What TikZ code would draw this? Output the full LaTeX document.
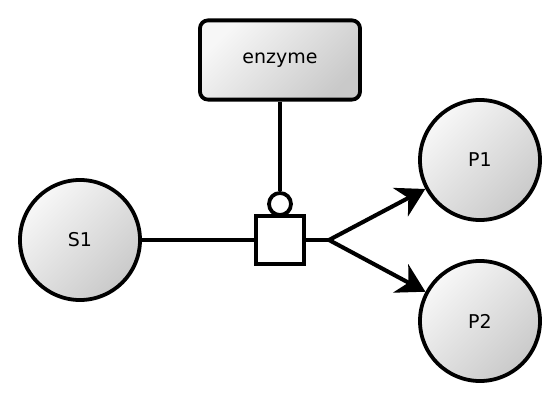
\documentclass[tikz,border=0pt]{standalone}
\usepackage{fontspec}
\setmainfont{DejaVu Sans}
\usetikzlibrary{arrows.meta,positioning}

\begin{document}
\begin{tikzpicture}[
  x=0.025cm, y=-0.025cm,
  species/.style={circle, draw, line width=2.7pt, minimum size=3cm, inner sep=0pt,
    top color=black!3, bottom color=black!21, shading angle=45,
    font=\fontsize{13.5}{16}\selectfont},
  macro/.style={rectangle, rounded corners=0.2cm, draw, line width=2.7pt,
    minimum width=4cm, minimum height=1.98cm,
    top color=black!3, bottom color=black!21, shading angle=45,
    font=\fontsize{13.5}{16}\selectfont},
  proc/.style={rectangle, draw, line width=2.7pt, fill=white, minimum size=1.2cm, inner sep=0pt},
  cat/.style={circle, draw, line width=2.7pt, fill=white, minimum size=0.55cm, inner sep=0pt},
  link/.style={line width=2.9pt},
  arr/.style={-{Stealth[length=0.7cm, width=0.8cm, inset=0.22cm]}, line width=2.9pt}
]
  \useasboundingbox (0,0) rectangle (560,400);

  % Species
  \node[species] (s1) at (80,240) {S1};
  \node[species] (p1) at (480,160) {P1};
  \node[species] (p2) at (480,321) {P2};

  % Enzyme
  \node[macro] (enz) at (280,60) {enzyme};

  % Process and catalysis
  \node[proc] (pr) at (280,240) {};
  \node[cat] (ct) at (280,204) {};
  \coordinate (br) at (329,240);

  % Connections
  \draw[link] (s1) -- (pr);
  \draw[link] (enz) -- (ct);
  \draw[link] (pr.east) -- (br);
  \draw[arr] (br) -- (p1);
  \draw[arr] (br) -- (p2);
\end{tikzpicture}
\end{document}
